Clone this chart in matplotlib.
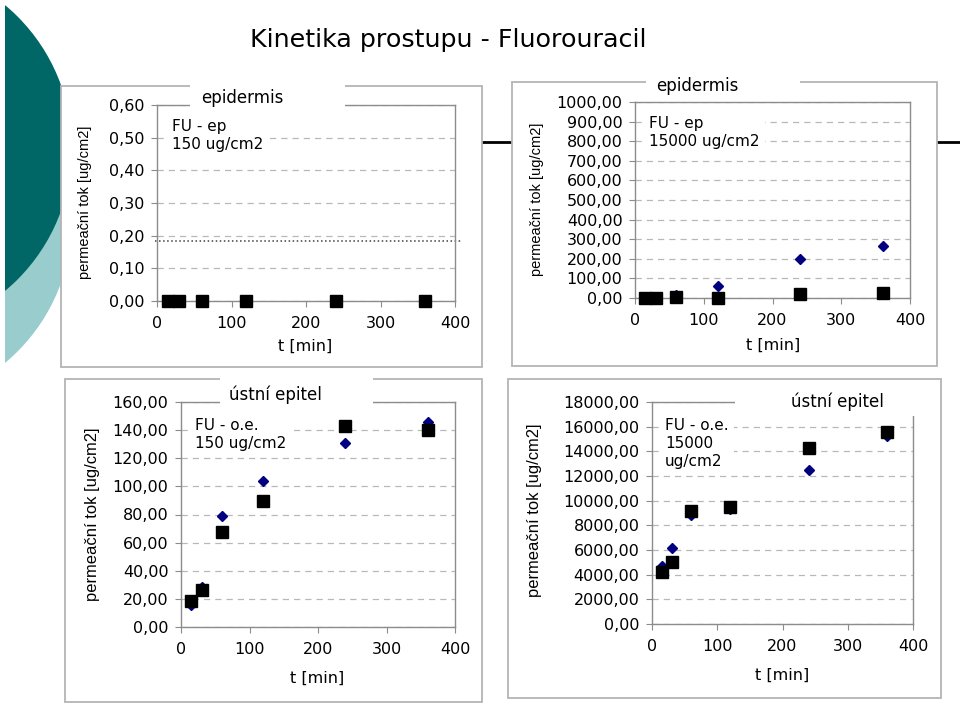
import matplotlib
matplotlib.use('Agg')
import matplotlib.pyplot as plt
from matplotlib.patches import Rectangle, Ellipse
from matplotlib.lines import Line2D
from matplotlib.ticker import FuncFormatter, MultipleLocator

W, H = 960, 705

# sampling times [min]
t_min = [15, 30, 60, 120, 240, 360]

# epidermis, 150 ug/cm2 (only the square series is visible)
ep150_sq = [0, 0, 0, 0, 0, 0]
ep150_ref = 0.185  # dotted line across the panel

# epidermis, 15000 ug/cm2
ep15000_di = [3, 4, 17, 59, 199, 263]
ep15000_sq = [0, 0, 3, 1, 20, 27]

# ustni epitel, 150 ug/cm2
oe150_di = [15.6, 28.4, 78.7, 104, 131, 146]
oe150_sq = [18.2, 26, 67.3, 89.3, 143.1, 139.8]

# ustni epitel, 15000 ug/cm2
oe15000_di = [4700, 6200, 8800, 9300, 12450, 15250]
oe15000_sq = [4250, 5000, 9200, 9450, 14250, 15550]

title = 'Kinetika prostupu - Fluorouracil'
ylab = 'permeační tok [ug/cm2]'
xlab = 't [min]'


def px(x0, y0, x1, y1):
    # pixel box (top-left origin) -> figure fraction rect
    return [x0 / W, 1 - y1 / H, (x1 - x0) / W, (y1 - y0) / H]


def comma(v, pos):
    return f'{v:.2f}'.replace('.', ',')


fig = plt.figure(figsize=(W / 100, H / 100), dpi=100)
fig.patch.set_facecolor('white')

# slide decoration
fig.patches.append(Ellipse((-114 / W, 1 - 220 / H), 372 / W, 372 / H,
                           transform=fig.transFigure, fc='#99cccc', ec='none', zorder=-5))
fig.patches.append(Ellipse((-114 / W, 1 - 148 / H), 372 / W, 372 / H,
                           transform=fig.transFigure, fc='#006666', ec='none', zorder=-4))
fig.patches.append(Rectangle((0, 0), 5 / W, 1, transform=fig.transFigure,
                             fc='white', ec='none', zorder=-3.5))
fig.lines.append(Line2D([470 / W, 1], [1 - 142 / H] * 2, transform=fig.transFigure,
                        color='black', lw=2, zorder=-3))

fig.text(448 / W, 1 - 40 / H, title, ha='center', va='center', fontsize=18.3,
         family='DejaVu Sans')

panels = [
    # frame, axes, title cover, title pos, ylabel pos, xlabel pos
    dict(frame=(61, 86, 482, 367), ax=(157, 105, 455, 301), cover=(190, 84, 345, 107),
         tpos=(242, 98), ypos=(85, 202), xpos=(305, 346), ylab_fs=10.5,
         ylim=0.6, step=0.1, txt='FU - ep\n150 ug/cm2', tname='epidermis'),
    dict(frame=(512, 82, 937, 366), ax=(635, 102, 910, 298), cover=(646, 80, 800, 100),
         tpos=(697, 86), ypos=(537, 199), xpos=(773, 345), ylab_fs=10.5,
         ylim=1000, step=100, txt='FU - ep\n15000 ug/cm2', tname='epidermis'),
    dict(frame=(65, 379, 482, 702), ax=(181, 402, 455, 627), cover=(220, 377, 373, 404),
         tpos=(275, 395), ypos=(92, 514), xpos=(317, 678), ylab_fs=11.9,
         ylim=160, step=20, txt='FU - o.e.\n150 ug/cm2', tname='ústní epitel'),
    dict(frame=(508, 379, 941, 698), ax=(652, 402, 913, 624), cover=(735, 381, 918, 416),
         tpos=(837, 402), ypos=(535, 510), xpos=(782, 675), ylab_fs=11.9,
         ylim=18000, step=2000, txt='FU - o.e.\n15000\nug/cm2', tname='ústní epitel'),
]

series = [
    (None, ep150_sq),
    (ep15000_di, ep15000_sq),
    (oe150_di, oe150_sq),
    (oe15000_di, oe15000_sq),
]

for p, (di, sq) in zip(panels, series):
    x0, y0, x1, y1 = p['frame']
    fig.patches.append(Rectangle((x0 / W, 1 - y1 / H), (x1 - x0) / W, (y1 - y0) / H,
                                 transform=fig.transFigure, fc='white', ec='#b4b4b4',
                                 lw=1.3, zorder=-2))

    ax = fig.add_axes(px(*p['ax']))
    ax.set_xlim(0, 400)
    ax.set_ylim(0, p['ylim'])
    ax.xaxis.set_major_locator(MultipleLocator(100))
    ax.yaxis.set_major_locator(MultipleLocator(p['step']))
    ax.yaxis.set_major_formatter(FuncFormatter(comma))
    for s in ax.spines.values():
        s.set_color('#8c8c8c')
        s.set_linewidth(1)
    ax.tick_params(direction='out', length=4, width=0.8, color='#8c8c8c',
                   labelsize=11.5, pad=5)
    ax.tick_params(axis='x', pad=7)
    ax.grid(axis='y', color='#b8b8b8', ls=(0, (5, 4)), lw=0.9)
    ax.set_axisbelow(True)

    if di is not None:
        ax.plot(t_min, di, 'D', color='#000080', ms=5.5, ls='none', zorder=3, clip_on=False)
    ax.plot(t_min, sq, 's', color='black', ms=8, ls='none', zorder=4, clip_on=False)

    ax.text(0.05, 0.93, p['txt'], transform=ax.transAxes, ha='left', va='top',
            fontsize=11, linespacing=1.25,
            bbox=dict(fc='white', ec='none', pad=4))

    cx0, cy0, cx1, cy1 = p['cover']
    fig.patches.append(Rectangle((cx0 / W, 1 - cy1 / H), (cx1 - cx0) / W, (cy1 - cy0) / H,
                                 transform=fig.transFigure, fc='white', ec='none', zorder=5))
    fig.text(p['tpos'][0] / W, 1 - p['tpos'][1] / H, p['tname'], ha='center', va='center',
             fontsize=12, zorder=6)
    fig.text(p['ypos'][0] / W, 1 - p['ypos'][1] / H, ylab, rotation=90, ha='center',
             va='center', fontsize=p['ylab_fs'], family='Liberation Sans')
    fig.text(p['xpos'][0] / W, 1 - p['xpos'][1] / H, xlab, ha='center', va='center',
             fontsize=11.5)

    if p['ylim'] == 0.6:
        ax.plot([-3, 408], [ep150_ref, ep150_ref], ls=':', color='#404040', lw=1.1,
                clip_on=False, zorder=2)

fig.savefig('out.png', dpi=100, facecolor='white')
